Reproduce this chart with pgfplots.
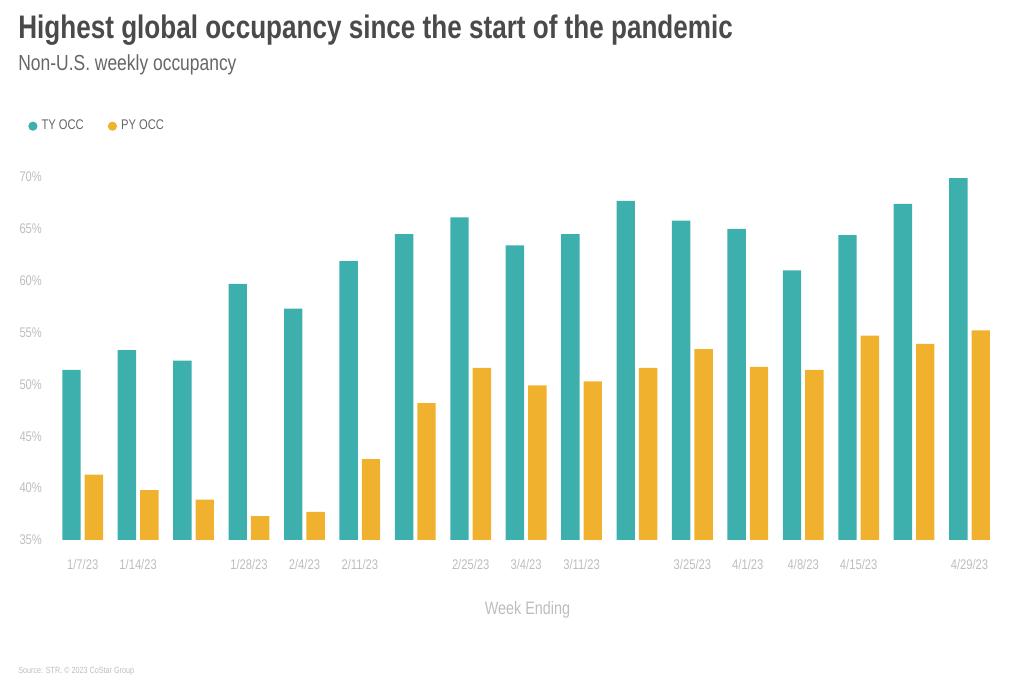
\documentclass[border=0pt]{standalone}
\usepackage{fontspec}
\setmainfont{Liberation Sans}[FakeStretch=0.8]
\usepackage{pgfplots}
\pgfplotsset{compat=1.18}
\definecolor{ty}{HTML}{3DAFAC}
\definecolor{py}{HTML}{F0B22E}
\definecolor{titlegray}{HTML}{4A4A4A}
\definecolor{subgray}{HTML}{666666}
\definecolor{lightgray}{HTML}{BDBDBD}
\begin{document}
\begin{tikzpicture}
\useasboundingbox (0,0) rectangle (512pt,-347pt);
\node[anchor=base west, inner sep=0pt, text=titlegray, font=\fontsize{16.3}{17}\selectfont\bfseries] at (9pt,-19.5pt) {Highest global occupancy since the start of the pandemic};
\node[anchor=base west, inner sep=0pt, text=subgray, font=\fontsize{10.9}{12}\selectfont] at (9pt,-35.5pt) {Non-U.S. weekly occupancy};
\node[anchor=base west, inner sep=0pt, text=lightgray, font=\fontsize{4.5}{5}\selectfont] at (9pt,-337pt) {Source: STR. © 2023 CoStar Group};
\begin{axis}[
    at={(27.5pt,-270pt)}, anchor=south west,
    scale only axis,
    width=472.5pt, height=181.5pt,
    ybar=2pt, bar width=9.2pt,
    xmin=-0.5, xmax=16.55,
    ymin=35, ymax=70,
    ytick={35,40,...,70},
    yticklabel={\pgfmathprintnumber{\tick}\%},
    xtick={0,...,16},
    xticklabels={1/7/23,1/14/23,,1/28/23,2/4/23,2/11/23,,2/25/23,3/4/23,3/11/23,,3/25/23,4/1/23,4/8/23,4/15/23,,4/29/23},
    /pgf/number format/assume math mode=true,
    axis line style={draw=none},
    major tick length=0pt,
    tick label style={text=lightgray, font=\fontsize{7}{8}\selectfont},
    yticklabel style={xshift=-3pt},
    xticklabel style={yshift=-6pt},
    xlabel={Week Ending},
    xlabel style={text=lightgray, font=\fontsize{9}{10}\selectfont, yshift=-9pt},
    legend style={at={(-0.035,1.14)}, anchor=west, draw=none, fill=none,
        legend columns=2, font=\fontsize{7}{8}\selectfont, text=subgray,
        /tikz/every even column/.append style={column sep=10pt}},
    legend image code/.code={\fill[#1] (0pt,0pt) circle (2.3pt);},
]
\addplot[fill=ty, draw=none] coordinates {
(0,51.4)(1,53.3)(2,52.3)(3,59.7)(4,57.3)(5,61.9)(6,64.5)(7,66.1)(8,63.4)
(9,64.5)(10,67.7)(11,65.8)(12,65.0)(13,61.0)(14,64.4)(15,67.4)(16,69.9)};
\addplot[fill=py, draw=none] coordinates {
(0,41.3)(1,39.8)(2,38.9)(3,37.3)(4,37.7)(5,42.8)(6,48.2)(7,51.6)(8,49.9)
(9,50.3)(10,51.6)(11,53.4)(12,51.7)(13,51.4)(14,54.7)(15,53.9)(16,55.2)};
\legend{TY OCC, PY OCC}
\end{axis}
\end{tikzpicture}
\end{document}
